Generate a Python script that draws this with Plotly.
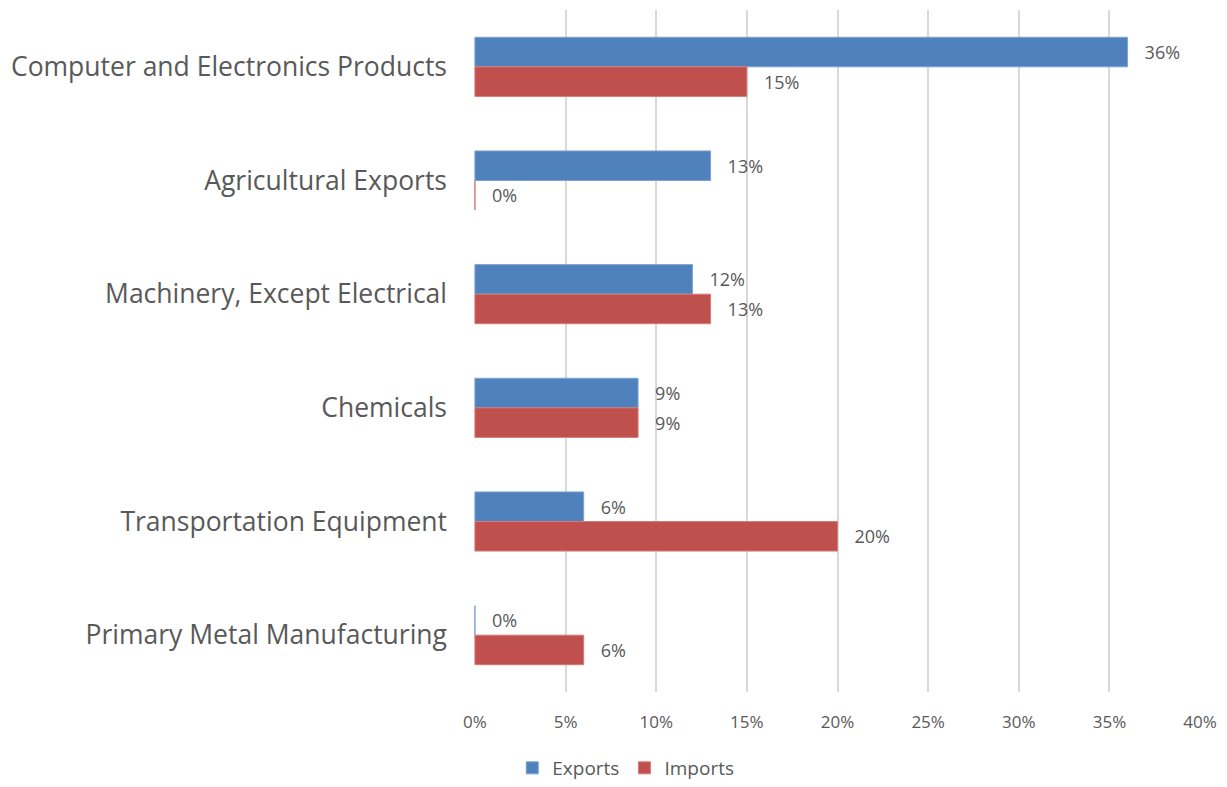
import plotly.graph_objects as go

categories = ["Computer and Electronics Products", "Agricultural Exports",
              "Machinery, Except Electrical", "Chemicals",
              "Transportation Equipment", "Primary Metal Manufacturing"]
exports = [36, 13, 12, 9, 6, 0]
imports = [15, 0, 13, 9, 20, 6]
tick_vals = [0, 5, 10, 15, 20, 25, 30, 35, 40]
tick_text = [f"{v}%" for v in tick_vals]

FONT = "Open Sans"
TXT = "#595959"

fig = go.Figure()
fig.add_trace(go.Bar(
    y=categories, x=exports, name="Exports", orientation="h",
    marker=dict(color="#4F81BD", line=dict(color="#7FA3D0", width=1)),
    text=[f"   {v}%" for v in exports], textposition="outside",
    textfont=dict(family=FONT, size=18, color=TXT), cliponaxis=False,
))
fig.add_trace(go.Bar(
    y=categories, x=imports, name="Imports", orientation="h",
    marker=dict(color="#C0504D", line=dict(color="#D47C7A", width=1)),
    text=[f"   {v}%" for v in imports], textposition="outside",
    textfont=dict(family=FONT, size=18, color=TXT), cliponaxis=False,
))

fig.update_layout(
    width=1227, height=787,
    barmode="group", bargap=0.48, bargroupgap=0,
    plot_bgcolor="white", paper_bgcolor="white",
    margin=dict(l=474, r=20, t=10, b=95),
    font=dict(family=FONT, color=TXT),
    xaxis=dict(range=[-0.05, 40.05], tickvals=tick_vals, ticktext=tick_text,
               showgrid=True, gridcolor="#D9D9D9", gridwidth=2,
               zeroline=False, showline=False,
               tickfont=dict(family=FONT, size=17, color=TXT), ticklen=0,
               ticklabelstandoff=18),
    yaxis=dict(categoryorder="array", categoryarray=categories,
               autorange="reversed", showgrid=False, showline=False,
               tickfont=dict(family=FONT, size=26.5, color=TXT),
               ticklen=0, ticklabelstandoff=26),
    legend=dict(orientation="h", xref="container", yref="container",
                x=0.51, xanchor="center", y=0.0, yanchor="bottom",
                font=dict(family=FONT, size=19, color=TXT),
                itemwidth=30, traceorder="normal"),
)
fig.write_html(
    "out.html",
    config={"displayModeBar": False},
    post_script="document.body.style.margin='0';"
                "document.documentElement.style.overflow='hidden';",
)
